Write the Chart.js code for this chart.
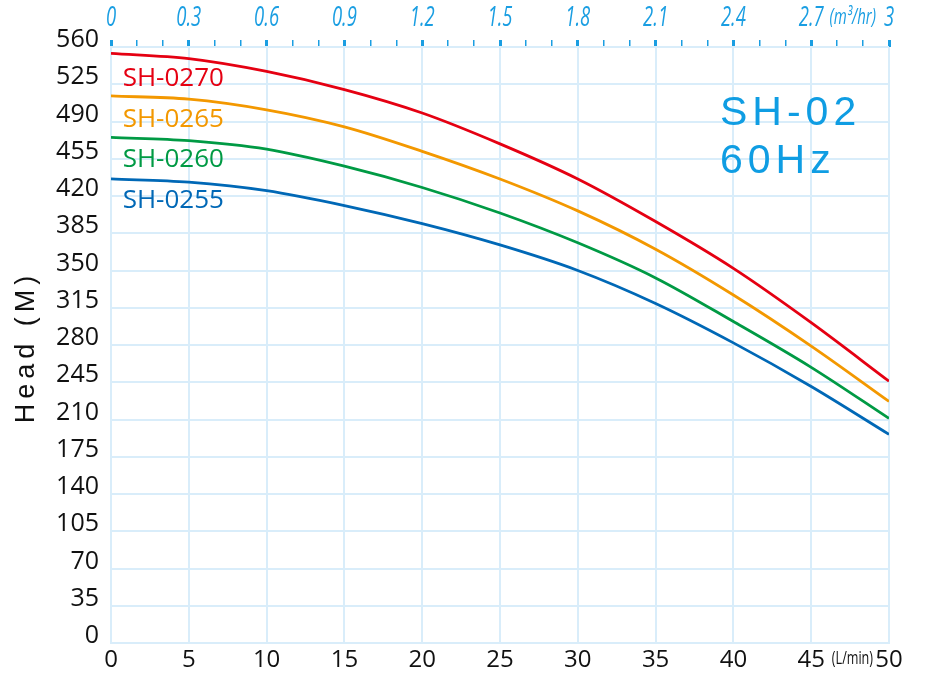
<!DOCTYPE html>
<html>
<head>
<meta charset="utf-8">
<script src="https://cdn.jsdelivr.net/npm/chart.js@4.4.1/dist/chart.umd.min.js"></script>
<style>
  html, body { margin: 0; padding: 0; background: #fff; }
  #wrap { width: 926px; height: 676px; }
</style>
</head>
<body>
<div id="wrap"><canvas id="pump"></canvas></div>
<script>
// flow in L/min (bottom axis)
const flow = [0, 5, 10, 15, 20, 25, 30, 35, 40, 45, 50];

// head in metres
const sh0270 = [554, 549, 537, 520, 498, 469, 436, 396, 352, 301, 246];
const sh0265 = [514, 511, 501, 485, 462, 436, 406, 370, 327, 279, 227];
const sh0260 = [475, 472, 464, 448, 428, 404, 376, 343, 302, 259, 211];
const sh0255 = [436, 433, 425, 411, 394, 374, 350, 319, 282, 241, 196];

const models = ['SH-0270', 'SH-0265', 'SH-0260', 'SH-0255'];
const colors = ['#e50012', '#f39800', '#009a44', '#0068b6'];
const labelHeads = [530, 492, 454, 416];

const gridColor = '#d9edfa';
const blue = '#1a9ee2';
const numFont = '"Open Sans", "Noto Sans", sans-serif';

// condensed text helper (no narrow font installed)
function squeezed(ctx, text, x, y, sx) {
  ctx.save();
  ctx.translate(x, y);
  ctx.scale(sx, 1);
  ctx.fillText(text, 0, 0);
  ctx.restore();
}

const extras = {
  id: 'extras',
  afterDraw(chart) {
    const ctx = chart.ctx;
    const x = chart.scales.x, y = chart.scales.y, x2 = chart.scales.x2;
    const area = chart.chartArea;
    ctx.save();

    // curve names
    ctx.font = '26px ' + numFont;
    ctx.textAlign = 'left';
    ctx.textBaseline = 'middle';
    models.forEach((m, i) => {
      ctx.fillStyle = colors[i];
      ctx.fillText(m, x.getPixelForValue(0.75), y.getPixelForValue(labelHeads[i]));
    });

    // model / frequency
    ctx.fillStyle = '#0f9de3';
    ctx.font = '41px "Liberation Sans", Arial, sans-serif';
    ctx.letterSpacing = '5px';
    ctx.textBaseline = 'alphabetic';
    ctx.fillText('SH-02', 720, 125);
    ctx.fillText('60Hz', 720, 173);
    ctx.restore();

    // y title
    ctx.save();
    ctx.letterSpacing = '5px';
    ctx.fillStyle = '#111';
    ctx.font = '27px "Liberation Sans", Arial, sans-serif';
    ctx.translate(27, (area.top + area.bottom) / 2 + 2);
    ctx.rotate(-Math.PI / 2);
    ctx.textAlign = 'center';
    ctx.textBaseline = 'middle';
    ctx.fillText('Head (M)', 0, 0);
    ctx.restore();

    // top axis labels (m3/hr), condensed italic
    ctx.save();
    ctx.textAlign = 'center';
    ctx.textBaseline = 'middle';
    ctx.fillStyle = blue;
    ctx.font = 'italic 28px ' + numFont;
    x2.ticks.forEach(t => {
      const k = Math.round(t.value * 10);
      if (k % 3 !== 0) return;
      const txt = k === 0 ? '0' : (k === 30 ? '3' : (k / 10).toFixed(1));
      squeezed(ctx, txt, x2.getPixelForValue(t.value), 18, 0.66);
    });
    ctx.font = 'italic 22px ' + numFont;
    squeezed(ctx, '(m\u00b3/hr)', x2.getPixelForValue(2.86), 18, 0.68);

    // flow unit
    ctx.fillStyle = '#111';
    ctx.font = '18px ' + numFont;
    squeezed(ctx, '(L/min)', x.getPixelForValue(47.65), 659, 0.7);
    ctx.restore();
  }
};

new Chart(document.getElementById('pump'), {
  type: 'line',
  data: {
    labels: flow,
    datasets: [sh0270, sh0265, sh0260, sh0255].map((d, i) => ({
      label: models[i],
      data: d.map((v, j) => ({ x: flow[j], y: v })),
      borderColor: colors[i],
      backgroundColor: colors[i],
      borderWidth: 2.8,
      pointRadius: 0,
      cubicInterpolationMode: 'monotone',
      fill: false
    }))
  },
  options: {
    responsive: true,
    maintainAspectRatio: false,
    animation: false,
    layout: { padding: { left: 0, right: 37, top: 0, bottom: 0 } },
    plugins: {
      legend: { display: false },
      tooltip: { enabled: false }
    },
    scales: {
      x: {
        type: 'linear',
        position: 'bottom',
        min: 0, max: 50,
        afterFit: s => { s.height = 33; },
        ticks: {
          stepSize: 5,
          color: '#111',
          font: { family: numFont, size: 24 },
          padding: 3,
          maxRotation: 0,
          callback: v => v
        },
        grid: { color: gridColor, lineWidth: 2, drawTicks: false },
        border: { color: gridColor, width: 2 }
      },
      x2: {
        type: 'linear',
        position: 'top',
        min: 0, max: 3,
        afterFit: s => { s.height = 47; },
        ticks: {
          stepSize: 0.1,
          autoSkip: false,
          display: false
        },
        grid: {
          drawOnChartArea: false,
          tickLength: 7,
          color: blue,
          lineWidth: c => (Math.round(c.tick.value * 10) % 3 === 0 ? 3 : 1.5)
        },
        border: { display: false }
      },
      y: {
        min: 0, max: 560,
        afterFit: s => { s.width = 111; },
        ticks: {
          stepSize: 35,
          color: '#111',
          padding: 12,
          labelOffset: -7,
          font: { family: numFont, size: 25 }
        },
        grid: { color: gridColor, lineWidth: 2, drawTicks: false },
        border: { color: gridColor, width: 2 }
      }
    }
  },
  plugins: [extras]
});
</script>
</body>
</html>
